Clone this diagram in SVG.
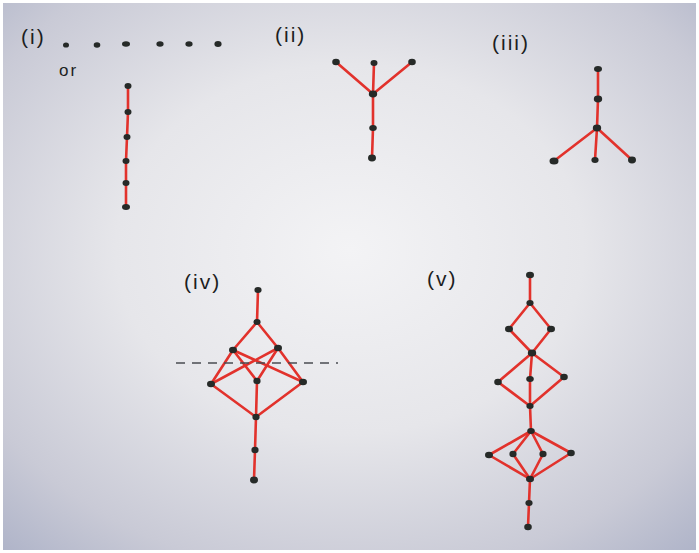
<svg xmlns="http://www.w3.org/2000/svg" width="699" height="553" viewBox="0 0 699 553">
<defs>
<radialGradient id="paper" cx="0.5" cy="0.45" r="0.75">
<stop offset="0" stop-color="#f3f3f5"/>
<stop offset="0.45" stop-color="#e6e6ea"/>
<stop offset="0.8" stop-color="#c9cad6"/>
<stop offset="1" stop-color="#aeb3c8"/>
</radialGradient>
<style>
.e{stroke:#e2322c;stroke-width:2.6;stroke-linecap:round;fill:none}
.n{fill:#262a28}
.t{font-family:"Liberation Sans",Arial,sans-serif;font-size:21px;fill:#1c1e22;letter-spacing:2px}
.d{stroke:#4a4c52;stroke-width:1.5;stroke-dasharray:9 7;fill:none}
</style>
</defs>
<rect width="699" height="553" fill="#ffffff"/>
<rect x="3" y="3" width="693" height="547" fill="url(#paper)"/>

<g id="labels">
<text class="t" x="21" y="44">(i)</text>
<text class="t" x="59" y="76" style="font-size:17px">or</text>
<text class="t" x="275" y="42">(ii)</text>
<text class="t" x="492" y="50">(iii)</text>
<text class="t" x="184" y="289">(iv)</text>
<text class="t" x="427" y="286">(v)</text>
</g>

<g id="connectors">
<!-- (i) -->
<polyline class="e" points="128,86 128,112 127,137 126,161 126,183 126,207"/>
<!-- (ii) -->
<line class="e" x1="336" y1="62" x2="373" y2="94"/>
<line class="e" x1="374" y1="63" x2="373" y2="94"/>
<line class="e" x1="412" y1="62" x2="373" y2="94"/>
<polyline class="e" points="373,94 373,128 372,158"/>
<!-- (iii) -->
<polyline class="e" points="598,69 598,99 597,128"/>
<line class="e" x1="597" y1="128" x2="554" y2="161"/>
<line class="e" x1="597" y1="128" x2="595" y2="160"/>
<line class="e" x1="597" y1="128" x2="632" y2="160"/>
<!-- (iv) -->
<line class="e" x1="258" y1="290" x2="257" y2="322"/>
<line class="e" x1="257" y1="322" x2="233" y2="350"/>
<line class="e" x1="257" y1="322" x2="278" y2="348"/>
<line class="e" x1="233" y1="350" x2="211" y2="384"/>
<line class="e" x1="233" y1="350" x2="257" y2="381"/>
<line class="e" x1="233" y1="350" x2="303" y2="382"/>
<line class="e" x1="278" y1="348" x2="211" y2="384"/>
<line class="e" x1="278" y1="348" x2="257" y2="381"/>
<line class="e" x1="278" y1="348" x2="303" y2="382"/>
<line class="e" x1="211" y1="384" x2="256" y2="417"/>
<line class="e" x1="257" y1="381" x2="256" y2="417"/>
<line class="e" x1="303" y1="382" x2="256" y2="417"/>
<polyline class="e" points="256,417 255,450 254,480"/>
<line class="d" x1="176" y1="363" x2="338" y2="363"/>
<!-- (v) -->
<polyline class="e" points="530,275 530,303"/>
<line class="e" x1="530" y1="303" x2="509" y2="329"/>
<line class="e" x1="530" y1="303" x2="551" y2="329"/>
<line class="e" x1="509" y1="329" x2="532" y2="353"/>
<line class="e" x1="551" y1="329" x2="532" y2="353"/>
<line class="e" x1="532" y1="353" x2="498" y2="382"/>
<line class="e" x1="532" y1="353" x2="530" y2="379"/>
<line class="e" x1="532" y1="353" x2="564" y2="377"/>
<line class="e" x1="498" y1="382" x2="530" y2="406"/>
<line class="e" x1="530" y1="379" x2="530" y2="406"/>
<line class="e" x1="564" y1="377" x2="530" y2="406"/>
<line class="e" x1="530" y1="406" x2="531" y2="431"/>
<line class="e" x1="531" y1="431" x2="489" y2="455"/>
<line class="e" x1="531" y1="431" x2="513" y2="454"/>
<line class="e" x1="531" y1="431" x2="543" y2="454"/>
<line class="e" x1="531" y1="431" x2="571" y2="453"/>
<line class="e" x1="489" y1="455" x2="530" y2="479"/>
<line class="e" x1="513" y1="454" x2="530" y2="479"/>
<line class="e" x1="543" y1="454" x2="530" y2="479"/>
<line class="e" x1="571" y1="453" x2="530" y2="479"/>
<polyline class="e" points="530,479 529,503 528,527"/>
</g>

<g id="graph-i">
<ellipse class="n" cx="66" cy="45" rx="3" ry="2.6"/>
<ellipse class="n" cx="97" cy="45" rx="3.3" ry="2.8"/>
<ellipse class="n" cx="126" cy="44" rx="4" ry="2.8"/>
<ellipse class="n" cx="160" cy="44" rx="3.6" ry="2.8"/>
<ellipse class="n" cx="189" cy="44" rx="3.6" ry="2.8"/>
<ellipse class="n" cx="218" cy="44" rx="3.6" ry="3"/>
<ellipse class="n" cx="128" cy="86" rx="3.5" ry="3"/>
<ellipse class="n" cx="128" cy="112" rx="3.5" ry="3"/>
<ellipse class="n" cx="127" cy="137" rx="3.5" ry="3"/>
<ellipse class="n" cx="126" cy="161" rx="3.5" ry="3"/>
<ellipse class="n" cx="126" cy="183" rx="3.5" ry="3"/>
<ellipse class="n" cx="126" cy="207" rx="4" ry="3"/>
</g>

<g id="graph-ii">
<ellipse class="n" cx="336" cy="62" rx="3.8" ry="3.2"/>
<ellipse class="n" cx="374" cy="63" rx="3.5" ry="3"/>
<ellipse class="n" cx="412" cy="62" rx="3.8" ry="3.2"/>
<ellipse class="n" cx="373" cy="94" rx="4.2" ry="3.4"/>
<ellipse class="n" cx="373" cy="128" rx="3.8" ry="3"/>
<ellipse class="n" cx="372" cy="158" rx="4" ry="3.4"/>
</g>

<g id="graph-iii">
<ellipse class="n" cx="598" cy="69" rx="4" ry="3"/>
<ellipse class="n" cx="598" cy="99" rx="4.2" ry="3.4"/>
<ellipse class="n" cx="597" cy="128" rx="4.2" ry="3.4"/>
<ellipse class="n" cx="554" cy="161" rx="4.5" ry="3.6"/>
<ellipse class="n" cx="595" cy="160" rx="3.6" ry="3"/>
<ellipse class="n" cx="632" cy="160" rx="4" ry="3.4"/>
</g>

<g id="graph-iv">
<ellipse class="n" cx="258" cy="290" rx="3.6" ry="3"/>
<ellipse class="n" cx="257" cy="322" rx="3.6" ry="3"/>
<ellipse class="n" cx="233" cy="350" rx="4" ry="3.2"/>
<ellipse class="n" cx="278" cy="348" rx="4" ry="3.2"/>
<ellipse class="n" cx="211" cy="384" rx="4" ry="3.2"/>
<ellipse class="n" cx="257" cy="381" rx="3.6" ry="3.2"/>
<ellipse class="n" cx="303" cy="382" rx="4" ry="3.2"/>
<ellipse class="n" cx="256" cy="417" rx="3.6" ry="3.2"/>
<ellipse class="n" cx="255" cy="450" rx="3.6" ry="3.2"/>
<ellipse class="n" cx="254" cy="480" rx="4" ry="3.4"/>
</g>

<g id="graph-v">
<ellipse class="n" cx="530" cy="275" rx="4" ry="3.2"/>
<ellipse class="n" cx="530" cy="303" rx="3.6" ry="3"/>
<ellipse class="n" cx="509" cy="329" rx="4" ry="3.2"/>
<ellipse class="n" cx="551" cy="329" rx="4" ry="3.2"/>
<ellipse class="n" cx="532" cy="353" rx="4.2" ry="3.4"/>
<ellipse class="n" cx="498" cy="382" rx="3.8" ry="3.2"/>
<ellipse class="n" cx="530" cy="379" rx="3.8" ry="3"/>
<ellipse class="n" cx="564" cy="377" rx="3.8" ry="3.2"/>
<ellipse class="n" cx="530" cy="406" rx="3.6" ry="3"/>
<ellipse class="n" cx="531" cy="431" rx="3.8" ry="3"/>
<ellipse class="n" cx="489" cy="455" rx="4" ry="3.2"/>
<ellipse class="n" cx="513" cy="454" rx="3.6" ry="3.2"/>
<ellipse class="n" cx="543" cy="454" rx="3.6" ry="3.2"/>
<ellipse class="n" cx="571" cy="453" rx="3.8" ry="3.2"/>
<ellipse class="n" cx="530" cy="479" rx="4" ry="3.2"/>
<ellipse class="n" cx="529" cy="503" rx="3.6" ry="3"/>
<ellipse class="n" cx="528" cy="527" rx="3.8" ry="3.2"/>
</g>
</svg>
